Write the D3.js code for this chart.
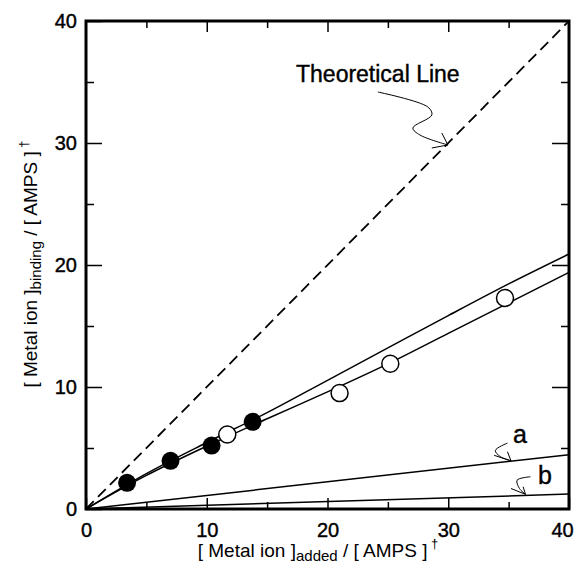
<!DOCTYPE html>
<html>
<head>
<meta charset="utf-8">
<script src="https://cdn.jsdelivr.net/npm/d3@7"></script>
<style>
  body { margin: 0; background: #fff; }
  svg { display: block; font-family: "Liberation Sans", Arial, Helvetica, sans-serif; }
</style>
</head>
<body>
<script>
// metal ion binding vs added, both per AMPS

var majorTicks = [0, 10, 20, 30, 40],
    minorTicks = [5, 15, 25, 35];

// measured points
var filledX = [3.4, 7.0, 10.4, 13.8],
    filledY = [2.15, 3.95, 5.2, 7.15];
var openX = [11.7, 21.0, 25.2, 34.7],
    openY = [6.1, 9.5, 11.9, 17.3];

// fitted curves
var fitX   = [0, 5, 10, 15, 20, 25, 30, 35, 40],
    upperY = [0, 2.9, 5.45, 7.9, 10.55, 13.2, 15.85, 18.45, 20.9],
    lowerY = [0, 2.75, 5.15, 7.4, 9.6, 11.9, 14.4, 16.9, 19.4];

// curves a and b, theoretical line
var aX = [0, 40], aY = [0, 4.45];
var bX = [0, 40], bY = [0, 1.22];
var theoX = [0, 40], theoY = [0, 40];

// hand drawn pointers (data units)
var theoArrow = [[24.17, 34.18], [28.31, 32.95], [28.64, 32.3], [27.07, 31.23], [27.65, 30.66], [29.97, 29.84]],
    theoBarbs = [[28.64, 29.59], [29.97, 29.84], [29.47, 30.82]];
var aArrow = [[34.9, 5.4], [33.9, 4.8], [34.3, 4.3], [35.2, 3.95]],
    aBarbs = [[33.8, 4.4], [35.2, 3.95], [34.9, 4.7]];
var bArrow = [[36.8, 2.64], [35.7, 2.36], [35.9, 1.68], [36.4, 1.2]],
    bBarbs = [[35.2, 1.68], [36.4, 1.2], [36.2, 1.82]];

var W = 578, H = 569;
var x = d3.scaleLinear().domain([0, 40]).range([86, 569]),
    y = d3.scaleLinear().domain([0, 40]).range([509, 21]);

var svg = d3.select("body").append("svg")
    .attr("width", W)
    .attr("height", H);

// ---- axes (ticks point inward on all four sides)
function styleAxis(g, size){
    g.selectAll(".domain").remove();
    g.selectAll("line").attr("stroke", "#000").attr("stroke-width", 1.5);
    g.selectAll("text").attr("fill", "#000").attr("font-size", size)
        .attr("stroke", "#000").attr("stroke-width", 0.4);
}

var xAxis = svg.append("g").attr("transform", "translate(0," + y(0) + ")")
    .call(d3.axisBottom(x).tickValues(majorTicks).tickSize(-11).tickPadding(14).tickFormat(d3.format("d")))
    .call(styleAxis, "20px");
// last label would run off the page
xAxis.selectAll("text").filter(function(d){return d === 40}).attr("dx", -7);

svg.append("g").attr("transform", "translate(0," + y(0) + ")")
    .call(d3.axisBottom(x).tickValues(minorTicks).tickSize(-7).tickFormat(""))
    .call(styleAxis, "0px");
svg.append("g").attr("transform", "translate(0," + y(40) + ")")
    .call(d3.axisTop(x).tickValues(majorTicks.slice(1, 4)).tickSize(-11).tickFormat(""))
    .call(styleAxis, "0px");
svg.append("g").attr("transform", "translate(0," + y(40) + ")")
    .call(d3.axisTop(x).tickValues(minorTicks).tickSize(-7).tickFormat(""))
    .call(styleAxis, "0px");

svg.append("g").attr("transform", "translate(" + x(0) + ",0)")
    .call(d3.axisLeft(y).tickValues(majorTicks).tickSize(-16).tickPadding(9).tickFormat(d3.format("d")))
    .call(styleAxis, "20px");
svg.append("g").attr("transform", "translate(" + x(0) + ",0)")
    .call(d3.axisLeft(y).tickValues(minorTicks).tickSize(-8).tickFormat(""))
    .call(styleAxis, "0px");
svg.append("g").attr("transform", "translate(" + x(40) + ",0)")
    .call(d3.axisRight(y).tickValues(majorTicks.slice(1, 4)).tickSize(-17).tickFormat(""))
    .call(styleAxis, "0px");
svg.append("g").attr("transform", "translate(" + x(40) + ",0)")
    .call(d3.axisRight(y).tickValues(minorTicks).tickSize(-8).tickFormat(""))
    .call(styleAxis, "0px");

// frame
svg.append("rect")
    .attr("x", x(0)).attr("y", y(40))
    .attr("width", x(40) - x(0)).attr("height", y(0) - y(40))
    .attr("fill", "none").attr("stroke", "#000").attr("stroke-width", 3);

// ---- lines
var line = d3.line().x(function(d){return x(d[0])}).y(function(d){return y(d[1])});
var smooth = d3.line().x(function(d){return x(d[0])}).y(function(d){return y(d[1])}).curve(d3.curveMonotoneX);

svg.append("path").datum(d3.zip(theoX, theoY))
    .attr("d", line).attr("fill", "none").attr("stroke", "#000")
    .attr("stroke-width", 1.8).attr("stroke-dasharray", "11,6");

[upperY, lowerY].forEach(function(ys){
    svg.append("path").datum(d3.zip(fitX, ys))
        .attr("d", smooth).attr("fill", "none").attr("stroke", "#000").attr("stroke-width", 1.5);
});
[[aX, aY], [bX, bY]].forEach(function(s){
    svg.append("path").datum(d3.zip(s[0], s[1]))
        .attr("d", line).attr("fill", "none").attr("stroke", "#000").attr("stroke-width", 1.5);
});

// ---- points
svg.selectAll("circle.open").data(d3.zip(openX, openY)).enter().append("circle")
    .attr("class", "open")
    .attr("cx", function(d){return x(d[0])}).attr("cy", function(d){return y(d[1])})
    .attr("r", 8.5).attr("fill", "#fff").attr("stroke", "#000").attr("stroke-width", 1.5);
svg.selectAll("circle.filled").data(d3.zip(filledX, filledY)).enter().append("circle")
    .attr("class", "filled")
    .attr("cx", function(d){return x(d[0])}).attr("cy", function(d){return y(d[1])})
    .attr("r", 9).attr("fill", "#000");

// ---- pointers and their labels
var wiggle = d3.line().x(function(d){return x(d[0])}).y(function(d){return y(d[1])}).curve(d3.curveCatmullRom);
[[theoArrow, theoBarbs], [aArrow, aBarbs], [bArrow, bBarbs]].forEach(function(p){
    svg.append("path").datum(p[0]).attr("d", wiggle)
        .attr("fill", "none").attr("stroke", "#000").attr("stroke-width", 1);
    svg.append("path").datum(p[1]).attr("d", line)
        .attr("fill", "none").attr("stroke", "#000").attr("stroke-width", 1);
});

function label(t, px, py, size){
    svg.append("text").attr("x", px).attr("y", py)
        .attr("font-size", size).attr("stroke", "#000").attr("stroke-width", 0.4)
        .text(t);
}
label("Theoretical Line", 296, 82, "23px");
label("a", 513, 443, "25px");
label("b", 538, 484, "25px");

// ---- axis titles
var xt = svg.append("text").attr("x", 318).attr("y", 557)
    .attr("text-anchor", "middle").attr("font-size", "19px");
xt.append("tspan").text("[ Metal ion ]");
xt.append("tspan").attr("font-size", "15px").attr("dy", 4).text("added");
xt.append("tspan").attr("dy", -4).text(" / [ AMPS ]");
xt.append("tspan").attr("font-size", "13px").attr("dy", -9).text(" †");

var yt = svg.append("text").attr("transform", "translate(37,264) rotate(-90)")
    .attr("text-anchor", "middle").attr("font-size", "19px");
yt.append("tspan").text("[ Metal ion ]");
yt.append("tspan").attr("font-size", "15px").attr("dy", 4).text("binding");
yt.append("tspan").attr("dy", -4).text(" / [ AMPS ]");
yt.append("tspan").attr("font-size", "13px").attr("dy", -9).text(" †");
</script>
</body>
</html>
